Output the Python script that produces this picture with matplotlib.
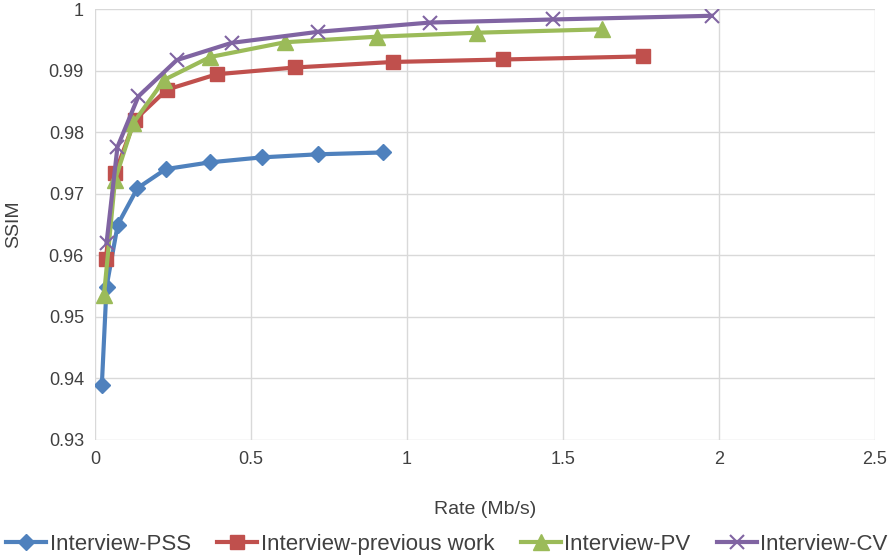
import matplotlib
matplotlib.use("Agg")
import matplotlib.pyplot as plt

pss_x = [0.022, 0.037, 0.073, 0.136, 0.227, 0.369, 0.534, 0.714, 0.923]
pss_y = [0.9390, 0.9549, 0.9650, 0.9709, 0.9740, 0.9751, 0.9759, 0.9764, 0.9767]

prev_x = [0.035, 0.064, 0.128, 0.230, 0.390, 0.641, 0.956, 1.309, 1.757]
prev_y = [0.9594, 0.9733, 0.9820, 0.9869, 0.9894, 0.9905, 0.9914, 0.9918, 0.9923]

pv_x = [0.029, 0.064, 0.123, 0.222, 0.369, 0.609, 0.903, 1.225, 1.626]
pv_y = [0.9536, 0.9722, 0.9815, 0.9885, 0.9922, 0.9946, 0.9955, 0.99615, 0.9967]

cv_x = [0.037, 0.072, 0.139, 0.262, 0.438, 0.716, 1.074, 1.469, 1.977]
cv_y = [0.9620, 0.9776, 0.9858, 0.9917, 0.9945, 0.9963, 0.9978, 0.9983, 0.9989]

labels = ["Interview-PSS", "Interview-previous work", "Interview-PV", "Interview-CV"]
x_ticks = [0, 0.5, 1, 1.5, 2, 2.5]
x_tick_labels = ["0", "0.5", "1", "1.5", "2", "2.5"]
y_ticks = [0.93, 0.94, 0.95, 0.96, 0.97, 0.98, 0.99, 1.0]
y_tick_labels = ["0.93", "0.94", "0.95", "0.96", "0.97", "0.98", "0.99", "1"]

plt.rcParams['font.family'] = ['Liberation Sans', 'DejaVu Sans']

fig = plt.figure(figsize=(8.94, 5.59), dpi=100)
ax = fig.add_axes([95/894, 1 - 440/559, (875-95)/894, (440-9)/559])

ax.plot(pss_x, pss_y, color='#4F81BD', lw=3, marker='D', ms=8.5, label=labels[0])
ax.plot(prev_x, prev_y, color='#C0504D', lw=3, marker='s', ms=10.5, label=labels[1])
ax.plot(pv_x, pv_y, color='#9BBB59', lw=3, marker='^', ms=11.5, label=labels[2])
ax.plot(cv_x, cv_y, color='#8064A2', lw=3, marker='x', ms=10.5, mew=1.5, label=labels[3])

ax.set_xlim(0, 2.5)
ax.set_ylim(0.93, 1.0)
ax.set_xticks(x_ticks)
ax.set_xticklabels(x_tick_labels)
ax.set_yticks(y_ticks)
ax.set_yticklabels(y_tick_labels)
ax.grid(True, color='#D9D9D9', lw=1)
ax.set_axisbelow(True)
for s in ax.spines.values():
    s.set_visible(False)
ax.tick_params(length=0, labelsize=13, colors='#404040', pad=8)
ax.set_xlabel("Rate (Mb/s)", fontsize=14, color='#404040', labelpad=24)
ax.set_ylabel("SSIM", fontsize=14, color='#404040', labelpad=19)

fig.legend(loc='lower center', bbox_to_anchor=(0.5, -0.005), ncol=4, frameon=False,
           fontsize=16, handlelength=1.8, handletextpad=0.15, columnspacing=1.2,
           borderpad=0.2, borderaxespad=0.1, labelcolor='#404040')

fig.savefig("out.png", dpi=100)
